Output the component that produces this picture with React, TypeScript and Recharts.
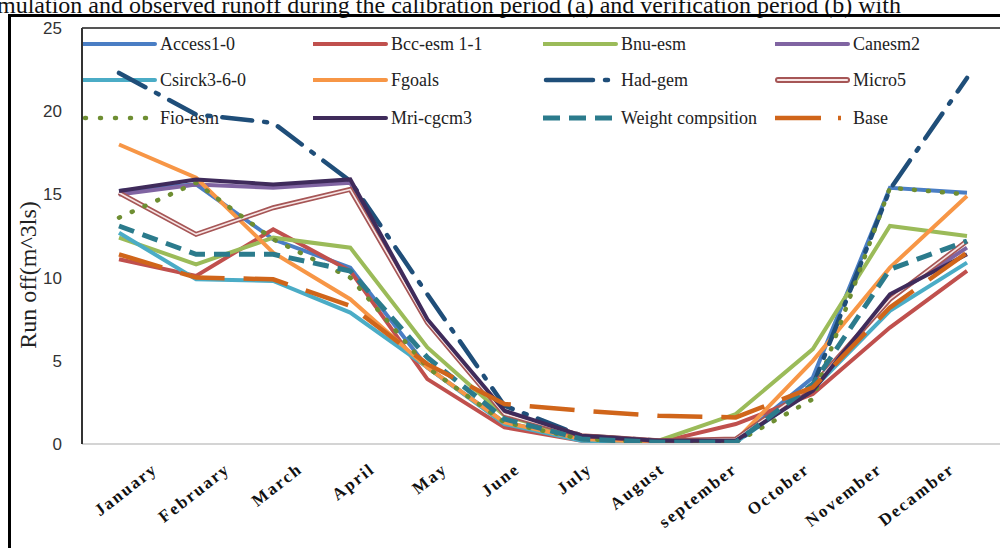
import React from 'react';
import { LineChart, Line, XAxis, YAxis, ReferenceLine } from 'recharts';

const months = ['January', 'February', 'March', 'April', 'May', 'June', 'July', 'August', 'september', 'October', 'November', 'Decamber'];
const yTicks = [0, 5, 10, 15, 20, 25];

const access = [15.2, 15.6, 12.3, 10.6, 4.6, 1.3, 0.3, 0.1, 0.2, 4.0, 15.4, 15.1];
const bcc = [11.1, 10.1, 12.9, 10.4, 3.9, 1.0, 0.2, 0.1, 1.2, 3.0, 7.0, 10.4];
const bnu = [12.4, 10.8, 12.4, 11.8, 5.8, 1.7, 0.4, 0.2, 1.8, 5.7, 13.1, 12.5];
const canesm = [15.0, 15.6, 15.4, 15.7, 7.4, 1.9, 0.5, 0.2, 0.2, 3.3, 8.8, 11.8];
const csirck = [12.7, 9.9, 9.8, 7.9, 4.6, 1.2, 0.2, 0.1, 0.1, 3.3, 8.0, 10.9];
const fgoals = [18.0, 16.0, 11.5, 8.7, 4.6, 1.3, 0.3, 0.1, 0.2, 5.0, 10.6, 14.9];
const hadgem = [22.3, 19.8, 19.3, 15.8, 9.0, 2.3, 0.5, 0.2, 0.1, 3.5, 15.3, 22.0];
const micro5 = [15.1, 12.6, 14.2, 15.3, 7.3, 1.8, 0.5, 0.2, 0.3, 3.5, 8.7, 12.2];
const fio = [13.6, 15.7, 12.3, 10.0, 4.6, 1.3, 0.3, 0.1, 0.1, 2.7, 15.4, 15.0];
const mri = [15.2, 15.9, 15.6, 15.9, 7.5, 2.0, 0.5, 0.2, 0.2, 3.2, 9.0, 11.4];
const weight = [13.1, 11.4, 11.4, 10.4, 5.2, 1.5, 0.3, 0.1, 0.1, 3.6, 10.5, 12.2];
const base = [11.4, 10.0, 9.9, 8.3, 4.8, 2.4, 2.0, 1.7, 1.6, 3.4, 8.2, 11.5];

const data = months.map((m, i) => ({
  month: m,
  access: access[i],
  bcc: bcc[i],
  bnu: bnu[i],
  canesm: canesm[i],
  csirck: csirck[i],
  fgoals: fgoals[i],
  hadgem: hadgem[i],
  micro5: micro5[i],
  fio: fio[i],
  mri: mri[i],
  weight: weight[i],
  base: base[i],
}));

type S = { key: string; name: string; color: string; width: number; dash?: string; legendDash?: string; cap?: 'round' | 'butt'; double?: boolean };

const series: S[] = [
  { key: 'access', name: 'Access1-0', color: '#4A7EC4', width: 4 },
  { key: 'bcc', name: 'Bcc-esm 1-1', color: '#C0504D', width: 4 },
  { key: 'bnu', name: 'Bnu-esm', color: '#9BBB59', width: 4 },
  { key: 'canesm', name: 'Canesm2', color: '#8064A2', width: 4 },
  { key: 'csirck', name: 'Csirck3-6-0', color: '#4BACC6', width: 4 },
  { key: 'fgoals', name: 'Fgoals', color: '#F79646', width: 4 },
  { key: 'hadgem', name: 'Had-gem', color: '#1F4E79', width: 4.5, dash: '30 12 3 12', legendDash: '47 12 3 40', cap: 'round' },
  { key: 'micro5', name: 'Micro5', color: '#A65656', width: 5, double: true },
  { key: 'fio', name: 'Fio-esm', color: '#6E8E32', width: 4.5, dash: '1 13', legendDash: '1 14', cap: 'round' },
  { key: 'mri', name: 'Mri-cgcm3', color: '#3F2B5B', width: 4 },
  { key: 'weight', name: 'Weight compsition', color: '#2B7B8C', width: 5, dash: '16 9', legendDash: '17 9' },
  { key: 'base', name: 'Base', color: '#D0651A', width: 4.5, dash: '45 19', legendDash: '46 17 3 40' },
];

const XTick = (props: any) => {
  const { x, payload } = props;
  const lx = 554 + (x - 543) * 0.94;
  return (
    <g transform={`translate(${lx},467)`}>
      <text
        textAnchor="end"
        transform="rotate(-38)"
        fontFamily="Liberation Serif"
        fontWeight="bold"
        fontSize={17}
        letterSpacing={2}
        dy="0.3em"
        fill="#111"
      >
        {payload.value}
      </text>
    </g>
  );
};

const ChartLegend = () => {
  const colX = [0, 231, 461, 693];
  const rowY = [18, 54, 92];
  return (
    <div style={{ position: 'absolute', left: 82, top: 26, width: 920, height: 110 }}>
      {series.map((s, i) => {
        const col = i % 4;
        const row = Math.floor(i / 4);
        const left = colX[col];
        const top = rowY[row];
        return (
          <div key={s.key} style={{ position: 'absolute', left, top: top - 12, height: 24, width: 230 }}>
            <svg width={76} height={24} style={{ position: 'absolute', left: 0, top: 0 }}>
              {s.double ? (
                <g>
                  <line x1={3} y1={12} x2={72} y2={12} stroke={s.color} strokeWidth={6} strokeLinecap="round" />
                  <line x1={3} y1={12} x2={72} y2={12} stroke="#F7E6E6" strokeWidth={2.2} strokeLinecap="round" />
                </g>
              ) : (
                <line
                  x1={s.cap === 'round' ? 3 : 0}
                  y1={12}
                  x2={73}
                  y2={12}
                  stroke={s.color}
                  strokeWidth={s.width}
                  strokeDasharray={s.legendDash}
                  strokeLinecap={s.cap === 'round' || !s.dash ? 'round' : 'butt'}
                />
              )}
            </svg>
            <span
              style={{
                position: 'absolute',
                left: 78,
                top: 0,
                lineHeight: '24px',
                fontFamily: 'Liberation Serif',
                fontSize: 18,
                color: '#222',
                whiteSpace: 'nowrap',
              }}
            >
              {s.name}
            </span>
          </div>
        );
      })}
    </div>
  );
};

export default function App() {
  return (
    <div style={{ position: 'absolute', left: 0, top: 0, width: 1000, height: 548, overflow: 'hidden', background: '#fff', zIndex: 0 }}>
      <svg width={1000} height={20} style={{ position: 'absolute', left: 0, top: 0 }}>
        <text x={-3} y={13} fontFamily="Liberation Serif" fontSize={24} fill="#111">
          mulation and observed runoff during the calibration period (a) and verification period (b) with
        </text>
      </svg>
      <div style={{ position: 'absolute', left: 8, top: 14, width: 1000, height: 540, border: '3px solid #000', boxSizing: 'border-box' }} />
      <ChartLegend />
      <div style={{ position: 'absolute', left: 0, top: 0 }}>
        <LineChart width={1000} height={548} data={data} margin={{ top: 28, right: 0, bottom: 0, left: 0 }}>
          <XAxis
            dataKey="month"
            padding={{ left: 37, right: 33 }}
            height={104}
            tick={<XTick />}
            tickLine={false}
            axisLine={{ stroke: '#D4D4D4', strokeWidth: 2 }}
            interval={0}
          />
          <YAxis
            domain={[0, 25]}
            ticks={yTicks}
            width={82}
            tickLine={false}
            tickMargin={14}
            axisLine={{ stroke: '#333', strokeWidth: 2 }}
            tick={{ fontFamily: 'Liberation Sans', fontSize: 17, fill: '#333' }}
            interval={0}
          />
          <ReferenceLine y={25} stroke="#555" strokeWidth={2} ifOverflow="visible" />
          {series.map((s) =>
            s.double ? (
              <React.Fragment key={s.key}>
                <Line
                  dataKey={s.key}
                  name={s.name}
                  stroke={s.color}
                  strokeWidth={s.width}
                  dot={false}
                  activeDot={false}
                  isAnimationActive={false}
                  type="linear"
                />
                <Line
                  dataKey={s.key}
                  name={s.name + ' inner'}
                  legendType="none"
                  stroke="#F7E6E6"
                  strokeWidth={1.6}
                  dot={false}
                  activeDot={false}
                  isAnimationActive={false}
                  type="linear"
                />
              </React.Fragment>
            ) : (
              <Line
                key={s.key}
                dataKey={s.key}
                name={s.name}
                stroke={s.color}
                strokeWidth={s.width}
                strokeDasharray={s.dash}
                strokeLinecap={s.cap === 'round' ? 'round' : 'butt'}
                dot={false}
                activeDot={false}
                isAnimationActive={false}
                type="linear"
              />
            )
          )}
        </LineChart>
      </div>
      <svg width={60} height={548} style={{ position: 'absolute', left: 0, top: 0 }}>
        <text
          x={36}
          y={275}
          transform="rotate(-90 36 275)"
          textAnchor="middle"
          fontFamily="Liberation Serif"
          fontSize={24}
          fill="#222"
        >
          Run off(m^3ls)
        </text>
      </svg>
    </div>
  );
}
